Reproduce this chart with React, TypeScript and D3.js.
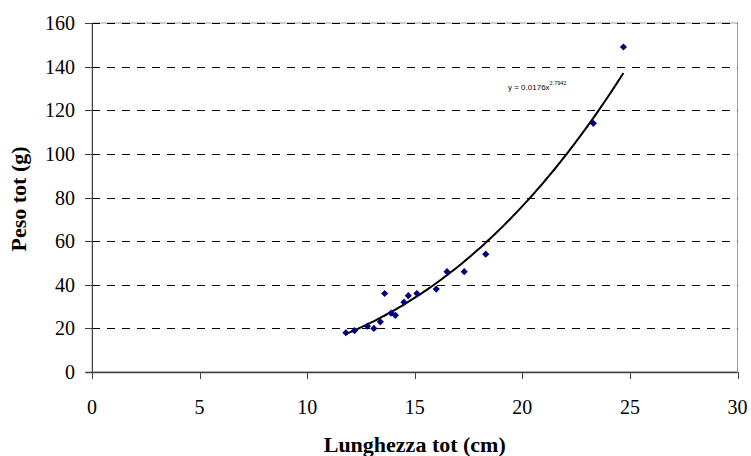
import React from "react";
import * as d3 from "d3";

// Lunghezza totale (cm) e peso totale (g) di ciascun esemplare
const lunghezza = [11.8, 12.2, 12.8, 13.1, 13.4, 13.6, 13.9, 14.1, 14.5, 14.7, 15.1, 16.0, 16.5, 17.3, 18.3, 23.3, 24.7];
const peso = [18, 19, 21, 20, 23, 36, 27, 26, 32, 35, 36, 38, 46, 46, 54, 114, 149];

// Curva di regressione potenza y = a·x^b
const coefA = 0.0176;
const coefB = 2.7942;

const xTicks = [0, 5, 10, 15, 20, 25, 30];
const yTicks = [0, 20, 40, 60, 80, 100, 120, 140, 160];

const W = 751;
const H = 456;
const left = 92;
const right = 737.5;
const top = 23;
const bottom = 372;

export default function App() {
  const x = d3.scaleLinear().domain([0, 30]).range([left, right]);
  const y = d3.scaleLinear().domain([0, 160]).range([bottom, top]);

  const xMin = d3.min(lunghezza) as number;
  const xMax = d3.max(lunghezza) as number;
  const curvePts: [number, number][] = d3
    .range(0, 101)
    .map((i) => xMin + ((xMax - xMin) * i) / 100)
    .map((v) => [v, coefA * Math.pow(v, coefB)]);
  const line = d3
    .line<[number, number]>()
    .x((d) => x(d[0]))
    .y((d) => y(d[1]));

  // rombo pieno (quadrato ruotato di 45°)
  const r = 3.6;
  const diamond = `M0,${-r}L${r},0L0,${r}L${-r},0Z`;
  const serif = "Liberation Serif, Times New Roman, serif";

  return (
    <svg width={W} height={H} style={{ position: "absolute", left: 0, top: 0 }}>
      <rect x={0} y={0} width={W} height={H} fill="#fff" />
      {/* bordo dell'area del grafico */}
      <rect x={left} y={top} width={right - left} height={bottom - top} fill="none" stroke="#a0a0a0" strokeWidth={1} />
      {/* griglia orizzontale tratteggiata */}
      {yTicks.filter((t) => t > 0).map((t) => (
        <line
          key={"g" + t}
          x1={left}
          x2={right}
          y1={Math.round(y(t)) + 0.5}
          y2={Math.round(y(t)) + 0.5}
          stroke="#000"
          strokeWidth={1}
          strokeDasharray="8,7"
        />
      ))}
      {/* assi */}
      <line x1={left + 0.5} x2={left + 0.5} y1={top} y2={bottom + 7} stroke="#404040" strokeWidth={1} />
      <line x1={left - 6} x2={right} y1={bottom + 0.5} y2={bottom + 0.5} stroke="#404040" strokeWidth={1.5} />
      {yTicks.map((t) => (
        <g key={"y" + t}>
          <line x1={left - 7} x2={left} y1={Math.round(y(t)) + 0.5} y2={Math.round(y(t)) + 0.5} stroke="#404040" />
          <text x={75} y={y(t) + 7} textAnchor="end" fontFamily={serif} fontSize={20} fill="#000">
            {t}
          </text>
        </g>
      ))}
      {xTicks.map((t) => (
        <g key={"x" + t}>
          <line x1={Math.round(x(t)) + 0.5} x2={Math.round(x(t)) + 0.5} y1={bottom} y2={bottom + 7} stroke="#404040" />
          <text x={x(t)} y={414} textAnchor="middle" fontFamily={serif} fontSize={20} fill="#000">
            {t}
          </text>
        </g>
      ))}
      {/* curva di tendenza */}
      <path d={line(curvePts) as string} fill="none" stroke="#000" strokeWidth={2} />
      {/* punti osservati */}
      {lunghezza.map((v, i) => (
        <path key={"p" + i} d={diamond} transform={`translate(${x(v)},${y(peso[i])})`} fill="#000080" />
      ))}
      <text x={508} y={90} fontFamily="Liberation Sans, Arial, sans-serif" fontSize={8} fill="#000">
        y = 0.0176x
        <tspan dy={-5} fontSize={5.5}>2.7942</tspan>
      </text>
      {/* titoli degli assi */}
      <text x={(left + right) / 2} y={452} textAnchor="middle" fontFamily={serif} fontSize={22} fontWeight="bold" fill="#000">
        Lunghezza tot (cm)
      </text>
      <text
        transform={`translate(26,199) rotate(-90)`}
        textAnchor="middle"
        fontFamily={serif}
        fontSize={22}
        fontWeight="bold"
        fill="#000"
      >
        Peso tot (g)
      </text>
    </svg>
  );
}
